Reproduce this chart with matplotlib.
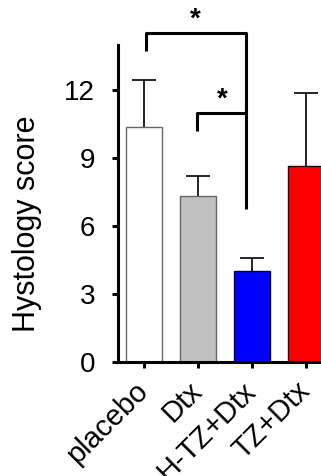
import matplotlib.pyplot as plt
import numpy as np

plt.rcParams['font.family'] = ['Liberation Sans', 'DejaVu Sans']

groups = ["placebo", "Dtx", "H-TZ+Dtx", "TZ+Dtx"]
means = [10.4, 7.33, 4.0, 8.67]
errs = [2.05, 0.87, 0.58, 3.2]
fills = ["#ffffff", "#c0c0c0", "#0000ff", "#ff0000"]
edges = ["#666666", "#666666", "#000022", "#220000"]
yticks = [0, 3, 6, 9, 12]

fig = plt.figure(figsize=(3.21, 4.76), dpi=100)
ax = fig.add_axes([0.3676, 0.2395, 0.6324 * 1.25, 0.666])

x = np.arange(len(groups))
tops = np.array(means) + np.array(errs)
ax.vlines(x, means, tops, color='black', lw=1.2, zorder=1)
ax.hlines(tops, x - 0.22, x + 0.22, color='black', lw=1.2, zorder=1)
ax.bar(x, means, width=0.667, color=fills, edgecolor=edges, linewidth=1.0, zorder=2)

ax.set_xlim(-0.48, -0.48 + (321 - 118) / 54 * 1.25)
ax.set_ylim(0, 14)
ax.set_yticks(yticks)
ax.set_xticks(x)
ax.set_xticklabels(groups, rotation=45, ha='right', va='center', rotation_mode='anchor')
ax.tick_params(axis='both', width=2.2, length=4.5, direction='out')
ax.tick_params(axis='y', labelsize=20, pad=12)
ax.tick_params(axis='x', labelsize=21, pad=13)
for side in ['top', 'right']:
    ax.spines[side].set_visible(False)
for side in ['left', 'bottom']:
    ax.spines[side].set_linewidth(2.2)
ax.set_ylabel("Hystology score", fontsize=22)
ax.yaxis.set_label_coords(-0.30, 0.437)

# significance brackets
kw = dict(color='black', lw=2.2, clip_on=False, solid_capstyle='butt')
ax.plot([0.04, 0.04, 1.89, 1.89], [13.73, 14.53, 14.53, 6.76], **kw)
ax.plot([0.98, 0.98, 1.89], [10.18, 10.98, 10.98], **kw)
ax.text(0.96, 14.55, "*", ha='center', va='bottom', fontsize=20, fontweight='bold')
ax.text(1.46, 11.0, "*", ha='center', va='bottom', fontsize=20, fontweight='bold')

fig.savefig("out.png", dpi=100)
